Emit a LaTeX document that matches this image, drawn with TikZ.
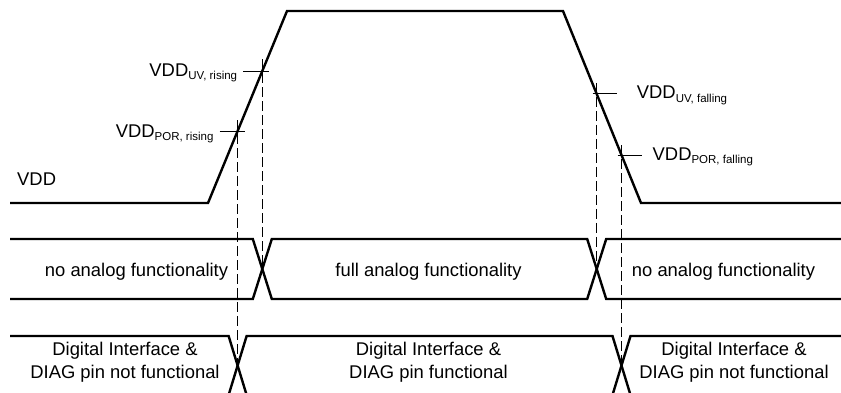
\documentclass[tikz,border=0pt]{standalone}
\usepackage{fontspec}
\setmainfont{Liberation Sans}
\usetikzlibrary{calc}
\tikzset{
  sinal/.style={line width=2.4pt},
  guia/.style={line width=1pt,dash pattern=on 10pt off 4pt},
  marca/.style={line width=1pt},
  rotulo/.style={font=\fontsize{18.4}{23}\selectfont,inner sep=0pt},
  texto/.style={font=\fontsize{18.4}{23}\selectfont,align=center,inner sep=0pt}
}
\newcommand{\vsub}[1]{\raisebox{-3.5pt}{\fontsize{11.5}{12}\selectfont #1}}

\begin{document}
\begin{tikzpicture}[x=1pt,y=-1pt]
        \useasboundingbox (0,0) rectangle (841,392);
        \clip (0,0) rectangle (841,392);
        % Curva VDD
        \coordinate (v0) at (10,203);
        \coordinate (r0) at (208,203);
        \coordinate (r1) at (287,11);
        \coordinate (f0) at (563,11);
        \coordinate (f1) at (641,203);
        \coordinate (v1) at (841,203);
        \draw[sinal] (v0)--(r0)--(r1)--(f0)--(f1)--(v1);
        \node[rotulo,anchor=base west] (vdd) at (17,185){VDD};

        % Limiares (POR / UV, subida e descida)
        \coordinate (porR) at ($(r0)!0.375!(r1)$);
        \coordinate (uvR)  at ($(r0)!0.6875!(r1)$);
        \coordinate (uvF)  at ($(f0)!0.432!(f1)$);
        \coordinate (porF) at ($(f0)!0.75!(f1)$);
        \draw[marca]($(porR)+(-18,0)$)--($(porR)+(7,0)$);
        \draw[marca]($(uvR)+(-19,0)$)--($(uvR)+(7,0)$);
        \draw[marca]($(uvF)+(-4,0)$)--($(uvF)+(20,0)$);
        \draw[marca]($(porF)+(-4,0)$)--($(porF)+(20,0)$);
        \node[rotulo,anchor=base east] (lporR) at ($(porR)+(-24,6)$)
          {VDD\vsub{POR, rising}};
        \node[rotulo,anchor=base east] (luvR) at ($(uvR)+(-25,5)$)
          {VDD\vsub{UV, rising}};
        \node[rotulo,anchor=base west] (luvF) at ($(uvF)+(40,5)$)
          {VDD\vsub{UV, falling}};
        \node[rotulo,anchor=base west] (lporF) at ($(porF)+(31,5)$)
          {VDD\vsub{POR, falling}};

        % Barramento analogico
        \coordinate (amid) at (0,269);
        \coordinate (xa1) at (uvR |- amid);
        \coordinate (xa2) at (uvF |- amid);
        \draw[sinal] (10,239)--($(xa1)+(-9.5,-30)$)--($(xa1)+(9.5,30)$)
          --($(xa2)+(-9.5,30)$)--($(xa2)+(9.5,-30)$)--(841,239);
        \draw[sinal] (10,299)--($(xa1)+(-9.5,30)$)--($(xa1)+(9.5,-30)$)
          --($(xa2)+(-9.5,-30)$)--($(xa2)+(9.5,30)$)--(841,299);
        \foreach \nome/\x/\txt in {
          an1/136.5/no analog functionality,
          an2/428.5/full analog functionality,
          an3/723.5/no analog functionality}{
          \node[texto,anchor=base] (\nome) at (\x,276){\txt};
        }

        % Barramento digital
        \coordinate (dmid) at (0,365.5);
        \coordinate (xd1) at (porR |- dmid);
        \coordinate (xd2) at (porF |- dmid);
        \draw[sinal] (10,336)--($(xd1)+(-9,-29.5)$)--($(xd1)+(9,29.5)$)
          --($(xd2)+(-9,29.5)$)--($(xd2)+(9,-29.5)$)--(841,336);
        \draw[sinal] (10,395)--($(xd1)+(-9,29.5)$)--($(xd1)+(9,-29.5)$)
          --($(xd2)+(-9,-29.5)$)--($(xd2)+(9,29.5)$)--(841,395);
        % ancora base = linha de base da ultima linha
        \foreach \nome/\x/\txt in {
          dg1/125/{Digital Interface \&\\DIAG pin not functional},
          dg2/428.5/{Digital Interface \&\\DIAG pin functional},
          dg3/734/{Digital Interface \&\\DIAG pin not functional}}{
          \node[texto,anchor=base] (\nome) at (\x,378){\txt};
        }

        % Linhas de referencia
        \draw[guia]($(porR)+(0,-11)$)--(xd1);
        \draw[guia]($(uvR)+(0,-12)$)--(xa1);
        \draw[guia]($(uvF)+(0,-11)$)--(xa2);
        \draw[guia]($(porF)+(0,-10)$)--(xd2);
      \end{tikzpicture}
\end{document}
